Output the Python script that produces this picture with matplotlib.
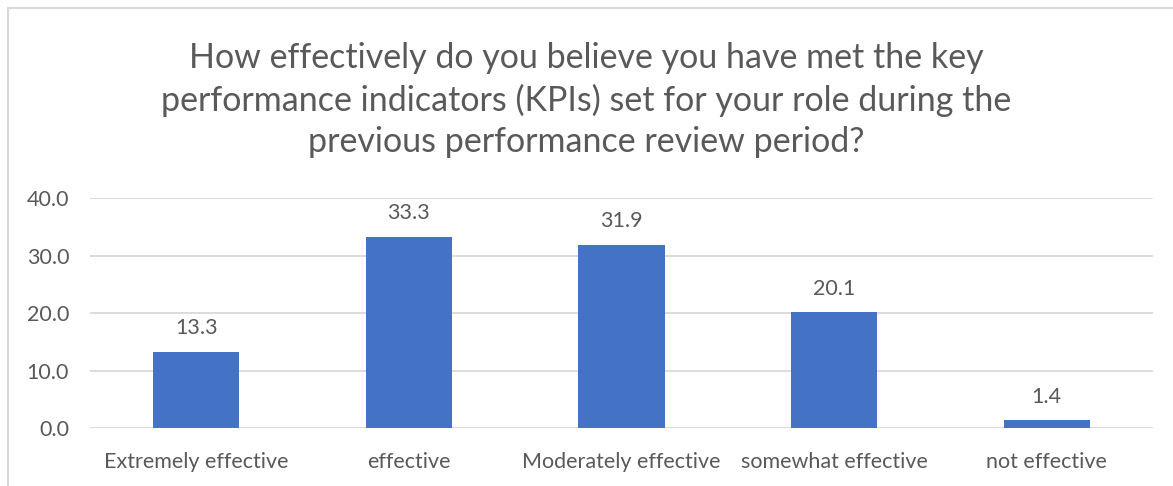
import matplotlib.pyplot as plt
from matplotlib.patches import Rectangle

# data
categories = ["Extremely effective", "effective", "Moderately effective",
              "somewhat effective", "not effective"]
values = [13.3, 33.3, 31.9, 20.1, 1.4]
yticks = [0, 10, 20, 30, 40]
title = ("How effectively do you believe you have met the key\n"
         "performance indicators (KPIs) set for your role during the\n"
         "previous performance review period?")

plt.rcParams['font.family'] = ['Lato', 'DejaVu Sans']
txt = '#595959'

fig = plt.figure(figsize=(11.73, 4.86), dpi=100)
W, H = 1173, 486

# chart frame (light grey border)
fig.patches.append(Rectangle((8 / W, -0.1), 1.2, 1 - 8 / H + 0.1,
                             transform=fig.transFigure, fill=False,
                             edgecolor='#D9D9D9', linewidth=1.5))

ax = fig.add_axes([90 / W, 1 - 428 / H, (1153 - 90) / W, (428 - 198) / H])
x = list(range(len(categories)))
ax.bar(x, values, width=0.405, color='#4472C4', zorder=3)

for xi, v in zip(x, values):
    ax.text(xi, v + 2.3, '%.1f' % v, ha='center', va='bottom',
            fontsize=15.5, color=txt)

ax.set_xlim(-0.5, len(categories) - 0.5)
ax.set_ylim(0, 40)
ax.set_yticks(yticks)
ax.set_yticklabels(['%.1f' % t for t in yticks], fontsize=15.5, color=txt)
ax.set_xticks(x)
ax.set_xticklabels(categories, fontsize=15.5, color=txt)
ax.tick_params(axis='x', length=0, pad=17)
ax.tick_params(axis='y', length=0, pad=15)
ax.grid(axis='y', color='#D9D9D9', linewidth=1.3, zorder=0)
for s in ax.spines.values():
    s.set_visible(False)

fig.text(0.5, 1 - 100 / H, title, ha='center', va='center',
         fontsize=24.5, color=txt, linespacing=1.34)

fig.savefig('out.png', dpi=100)
